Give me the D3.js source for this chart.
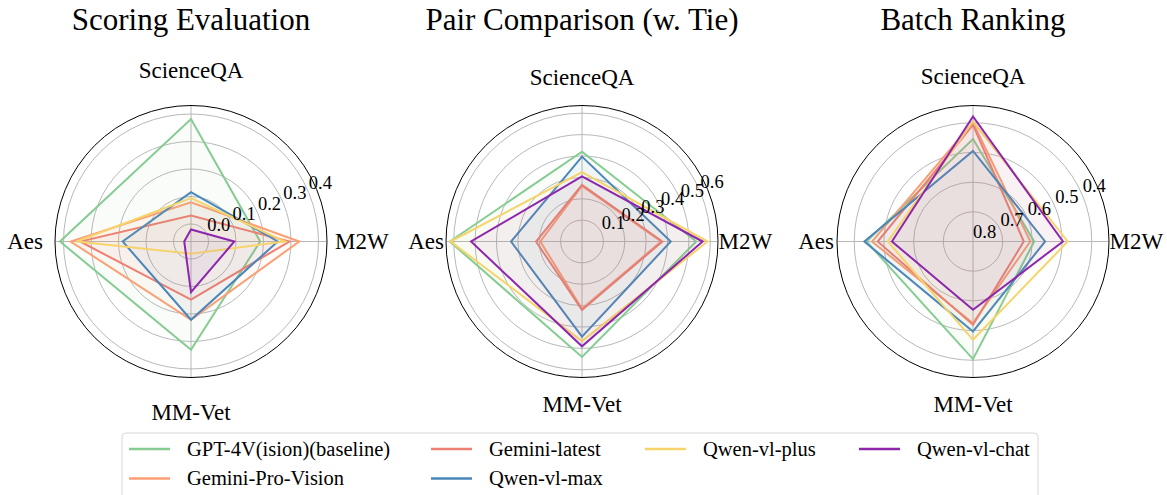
<!DOCTYPE html>
<html><head><meta charset="utf-8">
<script src="https://cdn.jsdelivr.net/npm/d3@7"></script>
<style>
html,body{margin:0;padding:0;background:#fff;}
svg{display:block;font-family:"Liberation Serif","Times New Roman",serif;}
</style></head>
<body>
<svg id="chart" width="1167" height="495"></svg>
<script>
// ---------- data ----------
const categories = ["M2W", "ScienceQA", "Aes", "MM-Vet"];
const seriesNames = ["GPT-4V(ision)(baseline)", "Gemini-Pro-Vision", "Gemini-latest", "Qwen-vl-max", "Qwen-vl-plus", "Qwen-vl-chat"];
const seriesColors = ["#86cc92", "#fc9f74", "#ef7f72", "#4a86ba", "#f6d46c", "#8e26ad"];
const panelTitles = ["Scoring Evaluation", "Pair Comparison (w. Tie)", "Batch Ranking"];

// values per series in category order [M2W, ScienceQA, Aes, MM-Vet]
const scoringEvaluation = [
  [0.188, 0.382, 0.413, 0.330],
  [0.330, 0.079, 0.374, 0.221],
  [0.294, 0.031, 0.340, 0.148],
  [0.252, 0.116, 0.185, 0.221],
  [0.278, 0.094, 0.352, -0.019],
  [0.094, -0.020, -0.039, 0.121]
];
const pairComparison = [
  [0.534, 0.420, 0.618, 0.540],
  [0.370, 0.260, 0.195, 0.315],
  [0.376, 0.265, 0.215, 0.320],
  [0.415, 0.397, 0.332, 0.445],
  [0.587, 0.324, 0.615, 0.466],
  [0.564, 0.304, 0.519, 0.490]
];
const batchRanking = [
  [0.594, 0.455, 0.441, 0.404],
  [0.607, 0.399, 0.460, 0.525],
  [0.629, 0.407, 0.479, 0.520],
  [0.557, 0.495, 0.434, 0.497],
  [0.481, 0.396, 0.513, 0.469],
  [0.497, 0.379, 0.527, 0.570]
];
const scoringTicks = [0.0, 0.1, 0.2, 0.3, 0.4];
const pairTicks = [0.1, 0.2, 0.3, 0.4, 0.5, 0.6];
const batchTicks = [0.8, 0.7, 0.6, 0.5, 0.4];
const scoringDomain = [-0.0636, 0.431];
const pairDomain = [0, 0.636];
const batchDomain = [0.8, 0.342];

// ---------- layout ----------
const R = 136, CY = 241.5;
const panels = [
  {title: panelTitles[0], data: scoringEvaluation, ticks: scoringTicks, domain: scoringDomain, cx: 191,
   lab: {top: 171, bottom: 171, left: 148, right: 144}},
  {title: panelTitles[1], data: pairComparison, ticks: pairTicks, domain: pairDomain, cx: 582,
   lab: {top: 164, bottom: 163, left: 138, right: 136.5}},
  {title: panelTitles[2], data: batchRanking, ticks: batchTicks, domain: batchDomain, cx: 973,
   lab: {top: 165, bottom: 163, left: 139, right: 136.5}}
];

const svg = d3.select("#chart");
// angle of each category, radians clockwise from 12 o'clock (d3 radial convention)
const angleScale = d3.scaleOrdinal().domain(categories).range([Math.PI / 2, 0, -Math.PI / 2, Math.PI]);
const gridColor = "#b0b0b0";

panels.forEach(p => {
  const g = svg.append("g").attr("transform", `translate(${p.cx},${CY})`);
  const rs = d3.scaleLinear().domain(p.domain).range([0, R]);

  // title
  svg.append("text").attr("x", p.cx).attr("y", 29.5).attr("text-anchor", "middle")
    .attr("font-size", 31).attr("fill", "#000").text(p.title);

  // grid rings
  g.selectAll("circle.ring").data(p.ticks.filter(t => rs(t) > 0.5)).join("circle")
    .attr("class", "ring").attr("r", d => rs(d)).attr("fill", "none")
    .attr("stroke", gridColor).attr("stroke-width", 0.9);
  // spokes
  g.selectAll("line.spoke").data(categories).join("line")
    .attr("x1", 0).attr("y1", 0)
    .attr("x2", d => R * Math.sin(angleScale(d)))
    .attr("y2", d => -R * Math.cos(angleScale(d)))
    .attr("stroke", gridColor).attr("stroke-width", 0.9);

  // series
  const line = d3.lineRadial()
    .angle((d, i) => angleScale(categories[i]))
    .radius(d => rs(d))
    .curve(d3.curveLinearClosed);
  p.data.forEach((vals, si) => {
    g.append("path").attr("d", line(vals))
      .attr("fill", seriesColors[si]).attr("fill-opacity", 0.05)
      .attr("stroke", seriesColors[si]).attr("stroke-width", 2)
      .attr("stroke-linejoin", "miter");
  });

  // outer frame
  g.append("circle").attr("r", R).attr("fill", "none").attr("stroke", "#000").attr("stroke-width", 1);

  // radial tick labels at 22.5 degrees
  const a = 22.5 * Math.PI / 180;
  g.selectAll("text.tick").data(p.ticks).join("text")
    .attr("class", "tick")
    .attr("x", d => rs(d) * Math.cos(a))
    .attr("y", d => -rs(d) * Math.sin(a) - 4)
    .attr("font-size", 18.5).attr("fill", "#000")
    .text(d => d.toFixed(1));

  // category labels
  const fs = 23;
  g.append("text").attr("x", 0).attr("y", -p.lab.top).attr("dy", "0.33em")
    .attr("text-anchor", "middle").attr("font-size", fs).text(categories[1]);
  g.append("text").attr("x", 0).attr("y", p.lab.bottom).attr("dy", "0.33em")
    .attr("text-anchor", "middle").attr("font-size", fs).text(categories[3]);
  g.append("text").attr("x", -p.lab.left).attr("y", 0).attr("dy", "0.33em")
    .attr("text-anchor", "end").attr("font-size", fs).text(categories[2]);
  g.append("text").attr("x", p.lab.right).attr("y", 0).attr("dy", "0.33em")
    .attr("text-anchor", "start").attr("font-size", fs).text(categories[0]);
});

// ---------- legend ----------
const lg = svg.append("g");
lg.append("rect").attr("x", 122).attr("y", 433).attr("width", 916).attr("height", 90)
  .attr("rx", 4).attr("fill", "#fff").attr("fill-opacity", 0.8)
  .attr("stroke", "#d6d6d6").attr("stroke-width", 1);
const colX = [129, 431, 645, 859];
const rowY = [449, 478.5];
// matplotlib fills legend column-wise with ncol=4 over 2 rows
const legendOrder = [[0, 0], [0, 1], [1, 0], [1, 1], [2, 0], [3, 0]];
seriesNames.forEach((name, i) => {
  const [c, r] = legendOrder[i];
  const x = colX[c], y = rowY[r];
  lg.append("line").attr("x1", x).attr("x2", x + 41).attr("y1", y).attr("y2", y)
    .attr("stroke", seriesColors[i]).attr("stroke-width", 2.5);
  lg.append("text").attr("x", x + 58).attr("y", y).attr("dy", "0.33em")
    .attr("font-size", 20.5).attr("fill", "#000").text(name);
});
</script>
</body></html>
